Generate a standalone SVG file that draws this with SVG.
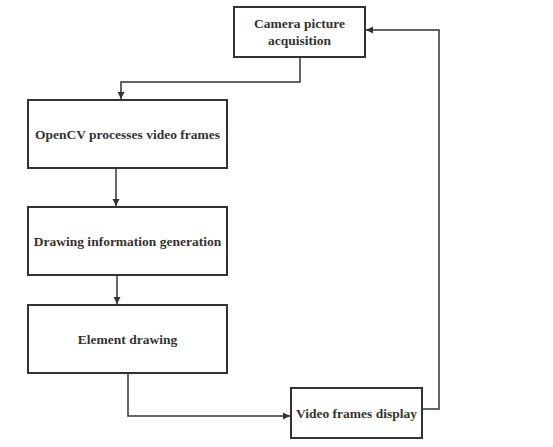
<svg xmlns="http://www.w3.org/2000/svg" width="553" height="447" viewBox="0 0 553 447">
<defs>
<marker id="arr" markerWidth="8" markerHeight="8" refX="7" refY="4" orient="auto" markerUnits="userSpaceOnUse">
<path d="M0,0.5 L7,4 L0,7.5 Z" fill="#333"/>
</marker>
<style>
.box{fill:#fff;stroke:#333;stroke-width:2}
.lbl{font-family:"Liberation Serif","Times New Roman",serif;font-weight:bold;font-size:13.5px;fill:#333;text-anchor:middle}
.con{fill:none;stroke:#333;stroke-width:1.5}
</style>
</defs>
<rect width="553" height="447" fill="#fff"/>
<g id="connectors">
<path class="con" d="M300,57 V82 H121 V99" marker-end="url(#arr)"/>
<path class="con" d="M116,168 V206" marker-end="url(#arr)"/>
<path class="con" d="M117,275 V304" marker-end="url(#arr)"/>
<path class="con" d="M128,373 V416 H290" marker-end="url(#arr)"/>
<path class="con" d="M422,409 H439 V30 H366" marker-end="url(#arr)"/>
</g>
<g id="camera">
<rect class="box" x="234" y="7" width="131" height="50"/>
<text class="lbl" x="299.5" y="28">Camera picture</text>
<text class="lbl" x="299.5" y="45">acquisition</text>
</g>
<g id="opencv">
<rect class="box" x="28" y="100" width="199" height="68"/>
<text class="lbl" x="127.5" y="139">OpenCV processes video frames</text>
</g>
<g id="drawinfo">
<rect class="box" x="28" y="207" width="199" height="68"/>
<text class="lbl" x="127.5" y="246">Drawing information generation</text>
</g>
<g id="element">
<rect class="box" x="28" y="305" width="199" height="68"/>
<text class="lbl" x="127.5" y="344">Element drawing</text>
</g>
<g id="display">
<rect class="box" x="291" y="388" width="131" height="50"/>
<text class="lbl" x="356.5" y="418">Video frames display</text>
</g>
</svg>
